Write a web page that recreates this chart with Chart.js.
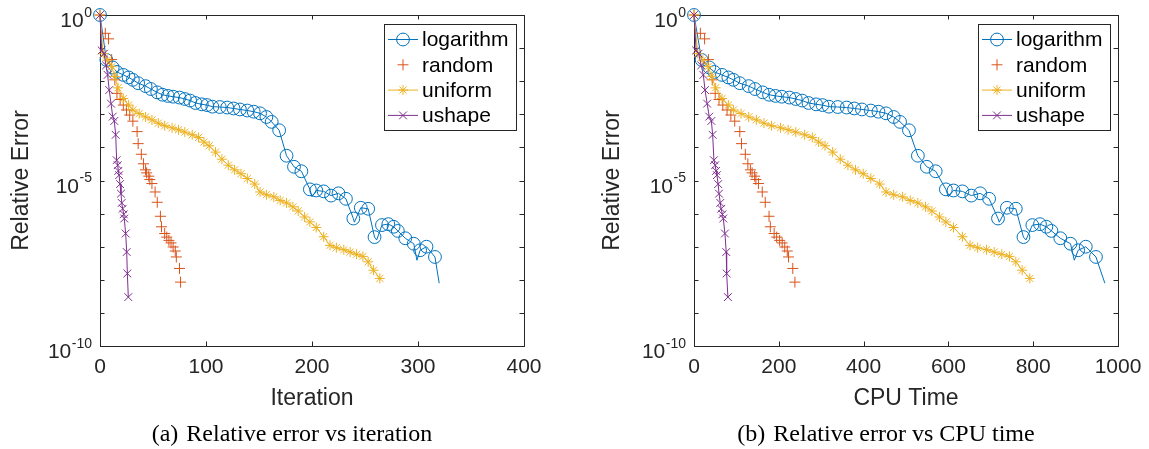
<!DOCTYPE html>
<html>
<head>
<meta charset="utf-8">
<script src="https://cdn.jsdelivr.net/npm/chart.js@4.4.0/dist/chart.umd.min.js"></script>
<style>
  body { margin: 0; background: #fff; width: 1149px; height: 449px; position: relative; overflow: hidden; }
  canvas { position: absolute; top: 0; }
  .cap { position: absolute; top: 419px; font-family: "Liberation Serif", "Times New Roman", serif; font-size: 24px; line-height: 28px; text-align: center; color: #000; }
  .cap span { margin-right: 8px; }
</style>
</head>
<body>
<canvas id="graficoIter" width="560" height="449" style="left:0"></canvas>
<canvas id="graficoCpu" width="574" height="449" style="left:575px"></canvas>
<div class="cap" style="left:0;width:584px"><span>(a)</span>Relative error vs iteration</div>
<div class="cap" style="left:586px;width:600px"><span>(b)</span>Relative error vs CPU time</div>
<script>
// logarithm (circles); markers every few iterations, line has some extra points
const logIter = [0,6,12,16,22,27,31,36,43,48,54,59,64,69,75,80,85,90,96,101,106,113,120,126,132,139,145,151,157,162,169,176,183,190,198,204,211,218,225,232,239,246,253,259,266,272,277,281,288,296,302,308,316];
const logCpu = [0,18,36,48,66,81,93,108,129,144,162,177,192,207,225,240,255,270,288,303,318,339,360,378,396,417,435,453,471,486,507,528,549,570,594,612,633,654,675,696,717,738,759,777,798,816,831,843,864,888,906,924,948];
const logErr = [1,4.4e-2,2.6e-2,1.9e-2,1.55e-2,1.3e-2,1.1e-2,8.7e-3,7.1e-3,5.8e-3,4.6e-3,3.9e-3,3.6e-3,3.4e-3,3.2e-3,2.9e-3,2.6e-3,2.2e-3,2.0e-3,1.9e-3,1.7e-3,1.66e-3,1.6e-3,1.5e-3,1.4e-3,1.3e-3,1.2e-3,1.07e-3,8.3e-4,5.9e-4,3.3e-4,5.6e-5,2.6e-5,1.9e-5,5.4e-6,5.0e-6,4.7e-6,3.5e-6,4.1e-6,2.8e-6,7.1e-7,1.5e-6,1.4e-6,1.95e-7,4.5e-7,4.8e-7,4.0e-7,3.0e-7,1.8e-7,1.23e-7,7.8e-8,1.0e-7,4.9e-8];
const logLineIter = [200,240,261,299,320];
const logLineCpu = [600,720,783,897,969];
const logLineErr = [3.2e-6,5.5e-7,1.6e-7,3.9e-8,7.9e-9];

// random (plus, no line)
const rndIter = [0,5,8,11,14,16,19,22,25,28,31,35,36,39,41,43,44,46,47,49,52,54,57,58,61,63,65,67,69,71,72,75,76];
const rndCpu = [0,15,25,34,43,50,59,68,78,87,96,108,112,121,127,133,137,143,146,152,161,168,177,180,189,195,202,208,214,220,223,233,238];
const rndErr = [1,0.28,0.19,4.5e-2,1.1e-2,4.3e-3,2.8e-3,1.9e-3,1.35e-3,9.5e-4,6.2e-4,3.0e-4,1.3e-4,6.2e-5,3.2e-5,2.1e-5,1.7e-5,1.35e-5,1.07e-5,8.1e-6,4.5e-6,2.2e-6,8.3e-7,4.0e-7,2.5e-7,1.95e-7,1.55e-7,1.3e-7,9.8e-8,7.4e-8,4.9e-8,2.2e-8,8.5e-9];

// uniform (asterisk)
const uniIter = [0,3,7,11,14,17,22,27,31,37,43,49,55,61,68,74,80,87,93,98,103,109,115,121,127,133,139,146,151,157,164,170,176,182,187,193,198,204,211,217,223,230,236,242,248,253,258,264];
const uniCpu = [0,9,21,33,42,51,66,81,93,111,129,147,165,183,204,222,240,261,279,294,309,327,345,363,381,399,417,438,453,471,492,510,528,546,561,579,594,612,633,651,669,690,708,726,744,759,774,792];
const uniErr = [1,6.8e-2,4.3e-2,2.75e-2,1.4e-2,6.3e-3,3.0e-3,1.9e-3,1.35e-3,1.05e-3,8.3e-4,6.8e-4,5.4e-4,4.5e-4,3.9e-4,3.4e-4,2.9e-4,2.4e-4,2.0e-4,1.45e-4,1.12e-4,7.2e-5,4.4e-5,2.9e-5,2.1e-5,1.6e-5,1.15e-5,7.8e-6,4.5e-6,3.7e-6,3.2e-6,2.5e-6,2.1e-6,1.6e-6,1.2e-6,7.9e-7,5.6e-7,3.8e-7,2.0e-7,1.1e-7,9.3e-8,8.1e-8,6.9e-8,5.9e-8,5.1e-8,3.5e-8,1.95e-8,1.1e-8];

// ushape (x)
const ushIter = [0,1.6,3.8,5.7,7.2,8.7,10.4,12,13.5,14.8,15.7,16.7,17.3,18,18.9,19.8,20.5,21.4,22.4,22.9,24.2,25.2,25.8,26.7];
const ushCpu = [0,5,11,17,22,26,31,36,41,44,47,50,52,54,57,59,62,64,67,69,73,76,77,80];
const ushErr = [1,8.5e-2,6.8e-2,3.0e-2,1.55e-2,5.4e-3,2.1e-3,8.5e-4,6.3e-4,2.4e-4,4.1e-5,2.9e-5,1.95e-5,1.45e-5,7.8e-6,4.0e-6,2.1e-6,1.4e-6,9.5e-7,7.1e-7,2.5e-7,6.9e-8,1.55e-8,3.0e-9];

const yDecades = [1,1e-1,1e-2,1e-3,1e-4,1e-5,1e-6,1e-7,1e-8,1e-9,1e-10];
const yLabels = [[1, '0'], [1e-5, '-5'], [1e-10, '-10']];
const iterTicks = [0,100,200,300,400];
const cpuTicks = [0,200,400,600,800,1000];
const nomes = ['logarithm', 'random', 'uniform', 'ushape'];

const AZUL = '#0072BD', VERMELHO = '#D95319', AMARELO = '#EDB120', ROXO = '#7E2F8E';
const CINZA = '#262626';
const FONTE = '"Liberation Sans", Arial, sans-serif';

function pontos(xs, ys) {
    return xs.map((v, i) => ({x: v, y: ys[i]}));
}

function montaDatasets(xLog, xLogLinha, xRnd, xUni, xUsh) {
    const linhaLog = pontos(xLog.concat(xLogLinha), logErr.concat(logLineErr)).sort((a, b) => a.x - b.x);
    return [
        {label: 'logarithm', data: linhaLog, showLine: true, borderColor: AZUL, borderWidth: 1, pointRadius: 0, order: 5, clip: false},
        {label: 'logarithm', data: pontos(xLog, logErr), showLine: false, pointStyle: 'circle', pointRadius: 6.4,
         pointBorderColor: AZUL, pointBackgroundColor: 'rgba(0,0,0,0)', pointBorderWidth: 1, order: 4, clip: false},
        {label: 'random', data: pontos(xRnd, rndErr), showLine: false, pointStyle: 'cross', pointRadius: 5.5,
         pointBorderColor: VERMELHO, pointBorderWidth: 1, order: 3, clip: false},
        {label: 'uniform', data: pontos(xUni, uniErr), showLine: true, borderColor: AMARELO, borderWidth: 1, pointStyle: 'star', pointRadius: 5,
         pointBorderColor: AMARELO, pointBackgroundColor: 'rgba(0,0,0,0)', pointBorderWidth: 1, order: 2, clip: false},
        {label: 'ushape', data: pontos(xUsh, ushErr), showLine: true, borderColor: ROXO, borderWidth: 1, pointStyle: 'crossRot', pointRadius: 5.5,
         pointBorderColor: ROXO, pointBorderWidth: 1, order: 1, clip: false}
    ];
}

const legendaEstilos = [
    {cor: AZUL, estilo: 'circle', raio: 6.4, linha: true},
    {cor: VERMELHO, estilo: 'cross', raio: 5.5, linha: false},
    {cor: AMARELO, estilo: 'star', raio: 5, linha: true},
    {cor: ROXO, estilo: 'crossRot', raio: 5.5, linha: true}
];

function desenhaCaixa(chart, xTicks) {
    const {ctx, chartArea: a, scales: {x, y}} = chart;
    ctx.save();
    ctx.strokeStyle = CINZA;
    ctx.lineWidth = 1;
    ctx.strokeRect(Math.round(a.left) + 0.5, Math.round(a.top) + 0.5, Math.round(a.right - a.left), Math.round(a.bottom - a.top));
    ctx.beginPath();
    xTicks.forEach(v => {
        const px = Math.round(x.getPixelForValue(v)) + 0.5;
        ctx.moveTo(px, a.bottom); ctx.lineTo(px, a.bottom - 4.5);
        ctx.moveTo(px, a.top); ctx.lineTo(px, a.top + 4.5);
    });
    yDecades.forEach(v => {
        const py = Math.round(y.getPixelForValue(v)) + 0.5;
        ctx.moveTo(a.left, py); ctx.lineTo(a.left + 4.5, py);
        ctx.moveTo(a.right, py); ctx.lineTo(a.right - 4.5, py);
    });
    ctx.stroke();
    ctx.restore();
}

function desenhaRotulosY(chart) {
    const {ctx, chartArea: a, scales: {y}} = chart;
    ctx.save();
    ctx.fillStyle = CINZA;
    ctx.textAlign = 'right';
    ctx.textBaseline = 'alphabetic';
    yLabels.forEach(([v, exp]) => {
        const py = y.getPixelForValue(v);
        const fim = a.left - 8;
        ctx.font = '14px ' + FONTE;
        const larg = ctx.measureText(exp).width;
        ctx.fillText(exp, fim, py + 1.5);
        ctx.font = '21px ' + FONTE;
        ctx.fillText('10', fim - larg - 0.5, py + 12);
    });
    ctx.restore();
}

function desenhaLegenda(chart) {
    const {ctx, chartArea: a} = chart;
    const x2 = a.right - 8.5, x1 = x2 - 131.5, y1 = a.top + 8.5, alt = 106;
    ctx.save();
    ctx.fillStyle = '#fff';
    ctx.fillRect(x1, y1, x2 - x1, alt);
    ctx.strokeStyle = CINZA;
    ctx.lineWidth = 1;
    ctx.strokeRect(Math.round(x1) + 0.5, Math.round(y1) + 0.5, Math.round(x2 - x1), alt);
    nomes.forEach((nome, i) => {
        const e = legendaEstilos[i];
        const yy = y1 + 16 + i * 25.3;
        ctx.strokeStyle = e.cor;
        ctx.fillStyle = 'rgba(0,0,0,0)';
        ctx.lineWidth = 1;
        if (e.linha) {
            ctx.beginPath();
            ctx.moveTo(x1 + 4, yy); ctx.lineTo(x1 + 34, yy);
            ctx.stroke();
        }
        Chart.helpers.drawPoint(ctx, {pointStyle: e.estilo, radius: e.raio, borderWidth: 1, rotation: 0}, x1 + 19, yy);
        ctx.fillStyle = '#000';
        ctx.font = '21px ' + FONTE;
        ctx.textAlign = 'left';
        ctx.textBaseline = 'middle';
        ctx.fillText(nome, x1 + 38, yy + 1);
    });
    ctx.restore();
}

function criaGrafico(id, datasets, xMax, xTicks, xTitulo, larguraY, tituloYPad, padDireita) {
    const el = document.getElementById(id);
    return new Chart(el, {
        type: 'scatter',
        data: {datasets: datasets},
        options: {
            responsive: false,
            animation: false,
            devicePixelRatio: 1,
            layout: {padding: {left: 0, top: 15, right: padDireita, bottom: 0}},
            elements: {line: {tension: 0}},
            plugins: {legend: {display: false}, tooltip: {enabled: false}},
            scales: {
                x: {
                    type: 'linear', min: 0, max: xMax,
                    grid: {display: false}, border: {display: false},
                    afterBuildTicks: s => { s.ticks = xTicks.map(v => ({value: v})); },
                    ticks: {color: CINZA, font: {size: 21, family: FONTE}, padding: 1, maxRotation: 0,
                            callback: v => String(v)},
                    afterFit: s => { s.height = 103; },
                    title: {display: true, text: xTitulo, color: CINZA, font: {size: 23, family: FONTE}, padding: {top: 0, bottom: 37}}
                },
                y: {
                    type: 'logarithmic', min: 1e-10, max: 1,
                    grid: {display: false}, border: {display: false},
                    afterBuildTicks: s => { s.ticks = yDecades.map(v => ({value: v})); },
                    ticks: {display: false},
                    afterFit: s => { s.width = larguraY; },
                    title: {display: true, text: 'Relative Error', color: CINZA, font: {size: 23, family: FONTE}, padding: {top: tituloYPad, bottom: 0}}
                }
            }
        },
        plugins: [{
            id: 'moldura',
            beforeDatasetsDraw(chart) { desenhaCaixa(chart, xTicks); },
            afterDraw(chart) { desenhaRotulosY(chart); desenhaLegenda(chart); }
        }]
    });
}

const graficoIter = criaGrafico('graficoIter', montaDatasets(logIter, logLineIter, rndIter, uniIter, ushIter),
    400, iterTicks, 'Iteration', 100, 8, 36);
const graficoCpu = criaGrafico('graficoCpu', montaDatasets(logCpu, logLineCpu, rndCpu, uniCpu, ushCpu),
    1000, cpuTicks, 'CPU Time', 119, 24, 31);
</script>
</body>
</html>
